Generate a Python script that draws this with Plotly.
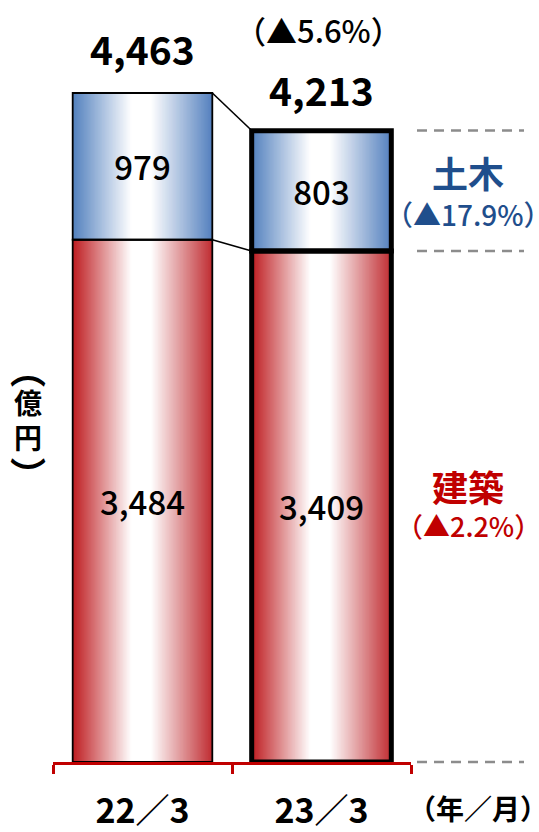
import plotly.graph_objects as go

# ---------------- data ----------------
categories = ["22／3", "23／3"]
kenchiku = [3484, 3409]      # 建築
doboku = [979, 803]          # 土木
totals = [4463, 4213]
total_change = "（▲5.6%）"
doboku_label = "土木"
doboku_change = "（▲17.9%）"
kenchiku_label = "建築"
kenchiku_change = "（▲2.2%）"
unit_y = ["︵", "億", "円", "︶"]
unit_x = "（年／月）"

# ---------------- layout constants ----------------
W, H = 539, 832
ML, MR, MT, MB = 53, 128, 20, 70
PW, PH = W - ML - MR, H - MT - MB
YMAX = 4950
BAR_W = 0.78
N = 100
FONT = "Noto Sans CJK JP"
RED = "#C00000"
BLUE = "#1F4E8C"


def px_x(px):
    return (px - ML) / PW


def px_y(py):
    return (H - MB - py) / PH


def mix(c1, c2, f):
    return tuple(round(a + (b - a) * f) for a, b in zip(c1, c2))


def grad(eL, eR, t):
    white = (255, 255, 255)
    if t < 0.42:
        c = mix(eL, white, t / 0.42)
    elif t <= 0.56:
        c = white
    else:
        c = mix(white, eR, (t - 0.56) / 0.44)
    return "rgb(%d,%d,%d)" % c


fig = go.Figure()

base_build = [0] * len(categories)
series_defs = [
    (kenchiku, base_build, (190, 28, 32), (192, 45, 50)),
    (doboku, kenchiku, (82, 128, 190), (84, 128, 190)),
]

step = BAR_W / N
for vals, base, eL, eR in series_defs:
    for i in range(N):
        t = (i + 0.5) / N
        fig.add_trace(go.Bar(
            x=categories, y=vals, base=base,
            width=step * (2.0 if i < N - 1 else 1.0),
            offset=-BAR_W / 2 + i * step,
            marker=dict(color=grad(eL, eR, t), line=dict(width=0)),
            hoverinfo="skip", showlegend=False,
        ))

# outlines + inner labels
for vals, base, _, _ in series_defs:
    fig.add_trace(go.Bar(
        x=categories, y=vals, base=base, width=BAR_W, offset=-BAR_W / 2,
        marker=dict(color="rgba(0,0,0,0)", line=dict(color="black", width=[1.8, 5])),
        text=[f"{v:,}" for v in vals], textposition="inside",
        insidetextanchor="middle", constraintext="none",
        textfont=dict(family=FONT, size=33, color="black", weight=500),
        hoverinfo="skip", showlegend=False,
    ))

shapes = []
# connector lines between bars
for lvl in (totals, kenchiku):
    shapes.append(dict(type="line", xref="x", yref="y",
                       x0=0 + BAR_W / 2, y0=lvl[0], x1=1 - BAR_W / 2, y1=lvl[1],
                       line=dict(color="black", width=1.6)))
# dashed guide lines to the right of second bar
for lvl in (totals[1], kenchiku[1], 0):
    yp = lvl / YMAX
    shapes.append(dict(type="line", xref="paper", yref="paper",
                       x0=px_x(417), x1=px_x(524), y0=yp, y1=yp,
                       line=dict(color="#8C8C8C", width=2.5, dash="10px,7px")))

C = dict(xanchor="center", yanchor="middle", showarrow=False)
annotations = []
# totals
for i, (c, tot) in enumerate(zip(categories, totals)):
    annotations.append(dict(x=c, y=tot, xref="x", yref="y", text=f"{tot:,}",
                            yshift=[45, 41][i], **C,
                            font=dict(family=FONT, size=39, color="black", weight="bold")))
annotations.append(dict(x=px_x(318), y=px_y(29), xref="paper", yref="paper",
                        text=total_change, **C,
                        font=dict(family=FONT, size=31, color="black", weight=500)))
# right side labels
mid_d = kenchiku[1] + doboku[1] / 2
mid_k = kenchiku[1] / 2
for txt, yv, ys, col, sz in [
    (doboku_label, mid_d, 19, BLUE, 36),
    (doboku_change, mid_d, -23, BLUE, 28),
    (kenchiku_label, mid_k, 21, RED, 36),
    (kenchiku_change, mid_k, -19, RED, 27),
]:
    annotations.append(dict(x=px_x(468), y=yv, xref="paper", yref="y", text=txt,
                            yshift=ys, **C,
                            font=dict(family=FONT, size=sz, color=col,
                                      weight="bold" if sz > 30 else 500)))
# y unit (vertical presentation-form parentheses)
for ch, py, sz in zip(unit_y, [368, 402, 437, 473], [36, 28, 28, 36]):
    annotations.append(dict(x=px_x(28), y=px_y(py), xref="paper", yref="paper",
                            text=ch, **C,
                            font=dict(family=FONT, size=sz, color="black", weight="bold")))
# x unit
annotations.append(dict(x=px_x(478), y=px_y(808), xref="paper", yref="paper",
                        text=unit_x, **C,
                        font=dict(family=FONT, size=28, color="black", weight="bold")))

fig.update_layout(
    width=W, height=H,
    margin=dict(l=ML, r=MR, t=MT, b=MB, pad=0, autoexpand=False),
    paper_bgcolor="white", plot_bgcolor="white",
    barmode="overlay",
    showlegend=False,
    shapes=shapes,
    annotations=annotations,
    xaxis=dict(
        type="category", range=[-0.5, 1.5], showgrid=False, zeroline=False,
        showline=True, linecolor=RED, linewidth=3, automargin=False,
        ticks="outside", tickson="boundaries", ticklen=9, tickwidth=3, tickcolor=RED,
        tickfont=dict(family=FONT, size=34, color="black", weight="bold"),
        ticklabelstandoff=17,
    ),
    yaxis=dict(visible=False, range=[0, YMAX], showgrid=False, zeroline=False),
)

fig.write_html("out.html", config={"displayModeBar": False},
               post_script="document.body.style.margin='0px';")
